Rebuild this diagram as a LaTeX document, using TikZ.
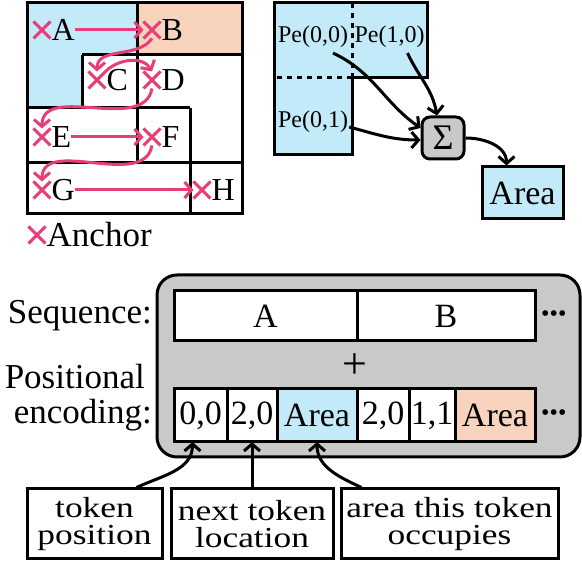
\documentclass[tikz,border=0pt]{standalone}
\usepackage{fontspec}
\setmainfont{Liberation Serif}
\newfontfamily\notefont{Liberation Serif}[FakeStretch=1.22]
\usetikzlibrary{arrows.meta,positioning,shapes.misc}
\definecolor{areablue}{RGB}{194,234,248}
\definecolor{areaorange}{RGB}{248,212,191}
\definecolor{panelgrey}{RGB}{201,201,201}
\definecolor{anchorpink}{RGB}{232,62,120}
\tikzset{
    gridline/.style={line width=3pt},
    gridlabel/.style={inner sep=0pt,font=\fontsize{32}{32}\selectfont},
    anchormark/.style={cross out,draw=anchorpink,line width=3pt,minimum size=17pt,inner sep=0pt,outer sep=0pt},
    anchorline/.style={-{Straight Barb[length=7pt,width=16pt]},draw=anchorpink,line width=3pt},
    pelabel/.style={inner sep=1pt,font=\fontsize{24}{24}\selectfont},
    pedash/.style={line width=3pt,dash pattern=on 5pt off 5pt},
    sumbox/.style={rectangle,rounded corners=8pt,draw,fill=panelgrey,line width=3pt,minimum size=42pt,inner sep=0pt},
    areabox/.style={rectangle,draw,fill=areablue,line width=3pt,minimum width=81pt,minimum height=52pt,inner sep=0pt},
    sumline/.style={-{Straight Barb[length=7pt,width=16pt]},line width=3pt},
    panelbox/.style={rectangle,rounded corners=20pt,draw,fill=panelgrey,line width=3pt},
    seqbox/.style={rectangle,draw,fill=white,line width=3pt,minimum height=50pt,inner sep=0pt,outer sep=0pt},
    enccell/.style={rectangle,draw,fill=white,line width=3pt,minimum height=53pt,inner sep=0pt,outer sep=0pt},
    rowlabel/.style={align=right,inner sep=0pt,font=\fontsize{35}{35}\selectfont},
    morebox/.style={inner sep=0pt,font=\fontsize{24}{24}\selectfont},
    notebox/.style={rectangle,draw,fill=white,line width=3pt,align=center,minimum height=70pt,inner sep=0pt,font=\notefont\fontsize{29}{27}\selectfont},
    noteline/.style={-{Straight Barb[length=7pt,width=16pt]},line width=3pt}
}

\begin{document}
\begin{tikzpicture}[x=1pt,y=1pt,font=\fontsize{34}{34}\selectfont]
    \useasboundingbox (0,0) rectangle (582,561);
    % anchor grid
    \fill[areablue] (27,558) -- (137,558) -- (137,506) -- (82,506) -- (82,453) -- (27,453) -- cycle;
    \fill[areaorange] (137,558) rectangle (242,506);
    \draw[gridline] (27,558) rectangle (242,347);
    \draw[gridline] (137,558) -- (137,398);
    \draw[gridline] (82,506) -- (242,506);
    \draw[gridline] (82,506) -- (82,453);
    \draw[gridline] (27,453) -- (190,453);
    \draw[gridline] (190,453) -- (190,347);
    \draw[gridline] (27,398) -- (242,398);
    \node[anchormark] (xA) at (42,531) {};
    \node[anchormark] (xB) at (152,531) {};
    \node[anchormark] (xC) at (97,481) {};
    \node[anchormark] (xD) at (152,481) {};
    \node[anchormark] (xE) at (42,424) {};
    \node[anchormark] (xF) at (152,424) {};
    \node[anchormark] (xG) at (42,371) {};
    \node[anchormark] (xH) at (202,371) {};
    \node[gridlabel,right=1pt of xA] (lA) {A};
    \node[gridlabel,right=1pt of xB] (lB) {B};
    \node[gridlabel,right=1pt of xC] (lC) {C};
    \node[gridlabel,right=1pt of xD] (lD) {D};
    \node[gridlabel,right=1pt of xE] (lE) {E};
    \node[gridlabel,right=1pt of xF] (lF) {F};
    \node[gridlabel,right=1pt of xG] (lG) {G};
    \node[gridlabel,right=1pt of xH] (lH) {H};
    \draw[anchorline] (lA.east) -- (xB.west);
    \draw[anchorline] (xB.south) to[out=235,in=90] (xC.north);
    \draw[anchorline] (xC.north east) to[out=45,in=120] (xD.north);
    \draw[anchorline] (xD.south) to[out=-100,in=90] (xE.north);
    \draw[anchorline] (lE.east) -- (xF.west);
    \draw[anchorline] (xF.south) to[out=-100,in=90] (xG.north);
    \draw[anchorline] (lG.east) -- (xH.west);
    \node[anchormark] (xkey) at (37,326) {};
    \node[gridlabel,font=\fontsize{35}{35}\selectfont,right=1pt of xkey] (lkey) {Anchor};
    % positional embedding sum
    \fill[areablue] (274,558) -- (427,558) -- (427,483) -- (352,483) -- (352,406) -- (274,406) -- cycle;
    \draw[pedash] (352,558) -- (352,483);
    \draw[pedash] (352,483) -- (274,483);
    \draw[gridline] (274,558) -- (427,558) -- (427,483) -- (352,483) -- (352,406) -- (274,406) -- cycle;
    \node[pelabel] (pe00) at (313,524) {Pe(0,0)};
    \node[pelabel] (pe10) at (389.5,524) {Pe(1,0)};
    \node[pelabel] (pe01) at (313,439) {Pe(0,1)};
    \node[sumbox,font=\fontsize{36}{36}\selectfont] (sigma) at (443,423) {Σ};
    \node[areabox] (area) at (522.5,368) {Area};
    \draw[sumline] ([xshift=20pt,yshift=-4pt]pe00.south) to[out=-25,in=145] ([yshift=10pt]sigma.west);
    \draw[sumline] ([xshift=18pt,yshift=-4pt]pe10.south) to[out=-65,in=100] ([xshift=-6pt]sigma.north);
    \draw[sumline] ([yshift=-5pt]pe01.east) to[out=-15,in=180] ([yshift=-2pt]sigma.west);
    \draw[sumline] (sigma.east) to[out=0,in=90] ([xshift=-16pt]area.north);
    % sequence and encoding
    \node[panelbox,minimum width=423pt,minimum height=182pt] (panel) at (368.5,195) {};
    \node[seqbox,minimum width=183pt] (seqA) at (265.5,245) {A};
    \node[seqbox,minimum width=178pt,right=0pt of seqA] (seqB) {B};
    \node[morebox,right=6pt of seqB] (seqmore) {•••};
    \node[font=\fontsize{44}{44}\selectfont] (plus) at (355,195) {+};
    \node[enccell,minimum width=53pt] (e1) at (200.5,145.5) {0,0};
    \node[enccell,minimum width=50pt,right=0pt of e1] (e2) {2,0};
    \node[enccell,minimum width=80pt,fill=areablue,right=0pt of e2] (e3) {Area};
    \node[enccell,minimum width=52pt,right=0pt of e3] (e4) {2,0};
    \node[enccell,minimum width=46pt,right=0pt of e4] (e5) {1,1};
    \node[enccell,minimum width=80pt,fill=areaorange,right=0pt of e5] (e6) {Area};
    \node[morebox,right=6pt of e6] (encmore) {•••};
    \node[rowlabel,anchor=east] (seqlabel) at (152,245) {Sequence:};
    \node[rowlabel,anchor=east] (enclabel) at (152,163) {Positional\hspace*{7pt}\\encoding:};
    \node[notebox,minimum width=135pt] (tokpos) at (94.5,37) {token\\position};
    \node[notebox,minimum width=162pt] (nexttok) at (252,37) {next token\\location};
    \node[notebox,minimum width=217pt] (occupy) at (449.5,37) {area this token\\occupies};
    \draw[noteline] ([xshift=42pt]tokpos.north) to[out=25,in=-90] ([xshift=-8pt]e1.south);
    \draw[noteline] (nexttok.north) -- (e2.south);
    \draw[noteline] ([xshift=-88pt]occupy.north) to[out=155,in=-90] (e3.south);
\end{tikzpicture}
\end{document}
